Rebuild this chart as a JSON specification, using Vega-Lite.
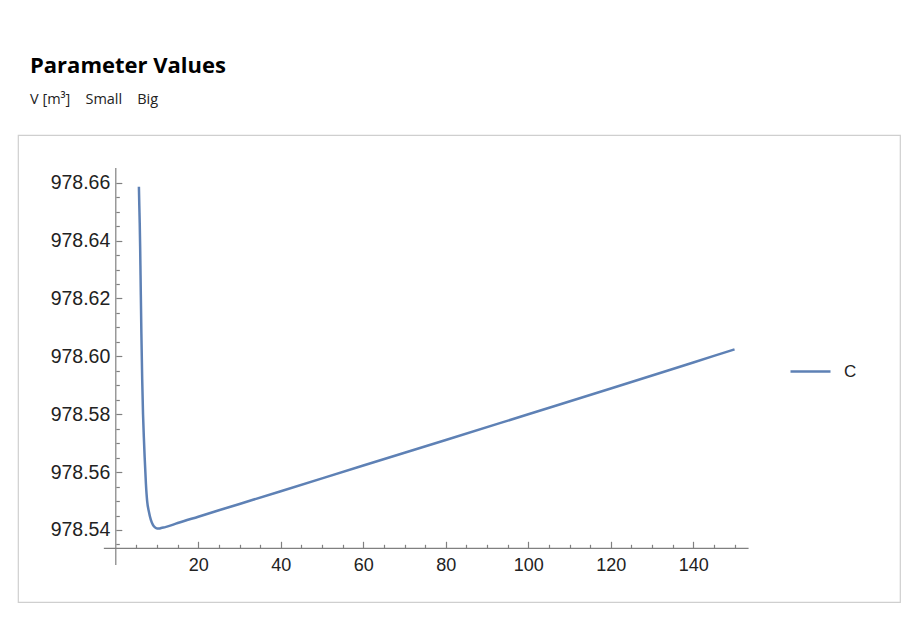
{
  "$schema": "https://vega.github.io/schema/vega-lite/v6.json",
  "width": 882,
  "height": 467,
  "autosize": {"type": "none"},
  "padding": {"left": 18, "top": 135, "right": 22, "bottom": 22},
  "background": "white",
  "config": {
    "view": {"stroke": "#cfcfcf", "strokeWidth": 1.2},
    "font": "Liberation Sans"
  },
  "title": {
    "text": "Parameter Values",
    "subtitle": "V [m³]\u00a0\u00a0\u00a0\u00a0Small\u00a0\u00a0\u00a0\u00a0Big",
    "anchor": "start",
    "frame": "group",
    "dx": 12,
    "offset": 28,
    "font": "Open Sans",
    "fontSize": 22,
    "fontWeight": "bold",
    "color": "#000000",
    "subtitleFont": "Open Sans",
    "subtitleFontSize": 14.5,
    "subtitleColor": "#222222",
    "subtitlePadding": 15
  },
  "datasets": {
    "curve": [
      {"t": 5.6, "v": 978.6586, "s": "C"},
      {"t": 5.7, "v": 978.652, "s": "C"},
      {"t": 5.8, "v": 978.646, "s": "C"},
      {"t": 5.9, "v": 978.638, "s": "C"},
      {"t": 6.0, "v": 978.628, "s": "C"},
      {"t": 6.2, "v": 978.608, "s": "C"},
      {"t": 6.4, "v": 978.592, "s": "C"},
      {"t": 6.6, "v": 978.58, "s": "C"},
      {"t": 6.8, "v": 978.572, "s": "C"},
      {"t": 7.0, "v": 978.565, "s": "C"},
      {"t": 7.3, "v": 978.556, "s": "C"},
      {"t": 7.6, "v": 978.55, "s": "C"},
      {"t": 8.0, "v": 978.5465, "s": "C"},
      {"t": 8.5, "v": 978.5435, "s": "C"},
      {"t": 9.0, "v": 978.5418, "s": "C"},
      {"t": 9.5, "v": 978.5409, "s": "C"},
      {"t": 10.0, "v": 978.5405, "s": "C"},
      {"t": 10.5, "v": 978.5405, "s": "C"},
      {"t": 11.0, "v": 978.5407, "s": "C"},
      {"t": 12.0, "v": 978.541, "s": "C"},
      {"t": 15.0, "v": 978.5424, "s": "C"},
      {"t": 20.0, "v": 978.5446, "s": "C"},
      {"t": 30.0, "v": 978.549, "s": "C"},
      {"t": 40.0, "v": 978.5534, "s": "C"},
      {"t": 60.0, "v": 978.5623, "s": "C"},
      {"t": 80.0, "v": 978.5711, "s": "C"},
      {"t": 100.0, "v": 978.58, "s": "C"},
      {"t": 120.0, "v": 978.5889, "s": "C"},
      {"t": 140.0, "v": 978.5979, "s": "C"},
      {"t": 150.0, "v": 978.6024, "s": "C"}
    ]
  },
  "resolve": {"axis": {"x": "independent", "y": "independent"}},
  "layer": [
    {
      "data": {"values": [{}]},
      "mark": {"type": "rule", "color": "#808080", "strokeWidth": 1.2},
      "encoding": {
        "x": {"datum": -2.9, "type": "quantitative", "scale": {"domain": [-23.71, 190.11], "nice": false, "zero": false},
          "axis": {"orient": "bottom", "offset": -53.7, "domain": false, "grid": false, "labels": false, "title": null,
            "values": [5, 10, 15, 25, 30, 35, 45, 50, 55, 65, 70, 75, 85, 90, 95, 105, 110, 115, 125, 130, 135, 145, 150],
            "tickSize": -4, "tickColor": "#808080", "tickWidth": 1.2}},
        "x2": {"datum": 153.4},
        "y": {"datum": 978.53368, "type": "quantitative", "scale": {"domain": [978.51512, 978.67649], "nice": false, "zero": false},
          "axis": {"orient": "left", "offset": -97.8, "domain": false, "grid": false, "labels": false, "title": null,
            "values": [978.535, 978.545, 978.55, 978.555, 978.565, 978.57, 978.575, 978.585, 978.59, 978.595, 978.605, 978.61, 978.615, 978.625, 978.63, 978.635, 978.645, 978.65, 978.655],
            "tickSize": -3.5, "tickColor": "#808080", "tickWidth": 1.2}}
      }
    },
    {
      "data": {"values": [{}]},
      "mark": {"type": "rule", "color": "#808080", "strokeWidth": 1.2},
      "encoding": {
        "x": {"datum": 0, "type": "quantitative", "scale": {"domain": [-23.71, 190.11], "nice": false, "zero": false}, "axis": null},
        "y": {"datum": 978.66509, "type": "quantitative", "scale": {"domain": [978.51512, 978.67649], "nice": false, "zero": false}, "axis": null},
        "y2": {"datum": 978.5279}
      }
    },
    {
      "data": {"name": "curve"},
      "mark": {"type": "line", "strokeWidth": 2.5, "interpolate": "monotone"},
      "encoding": {
        "x": {"field": "t", "type": "quantitative", "scale": {"domain": [-23.71, 190.11], "nice": false, "zero": false},
          "axis": {"orient": "bottom", "offset": -53.7, "domain": false, "grid": false, "title": null,
            "values": [20, 40, 60, 80, 100, 120, 140], "format": "d",
            "tickSize": -7, "tickColor": "#808080", "tickWidth": 1.2,
            "labelFont": "Liberation Sans", "labelFontSize": 18, "labelColor": "#222222", "labelPadding": 15,
            "labelFlush": false, "labelOverlap": false, "labelBound": false}},
        "y": {"field": "v", "type": "quantitative", "scale": {"domain": [978.51512, 978.67649], "nice": false, "zero": false},
          "axis": {"orient": "left", "offset": -97.8, "domain": false, "grid": false, "title": null,
            "values": [978.54, 978.56, 978.58, 978.6, 978.62, 978.64, 978.66], "format": ".2f",
            "tickSize": -6, "tickColor": "#808080", "tickWidth": 1.2,
            "labelFont": "Liberation Sans", "labelFontSize": 19.5, "labelColor": "#222222", "labelPadding": 12,
            "labelFlush": false, "labelOverlap": false, "labelBound": false}},
        "color": {"field": "s", "type": "nominal", "scale": {"range": ["#5e81b5"]},
          "legend": {"orient": "none", "legendX": 771, "legendY": 215, "title": null, "symbolType": "stroke",
            "symbolSize": 1600, "symbolStrokeWidth": 2.5, "labelFont": "Liberation Sans", "labelFontSize": 17,
            "labelColor": "#222222", "labelOffset": 12}}
      }
    }
  ]
}
